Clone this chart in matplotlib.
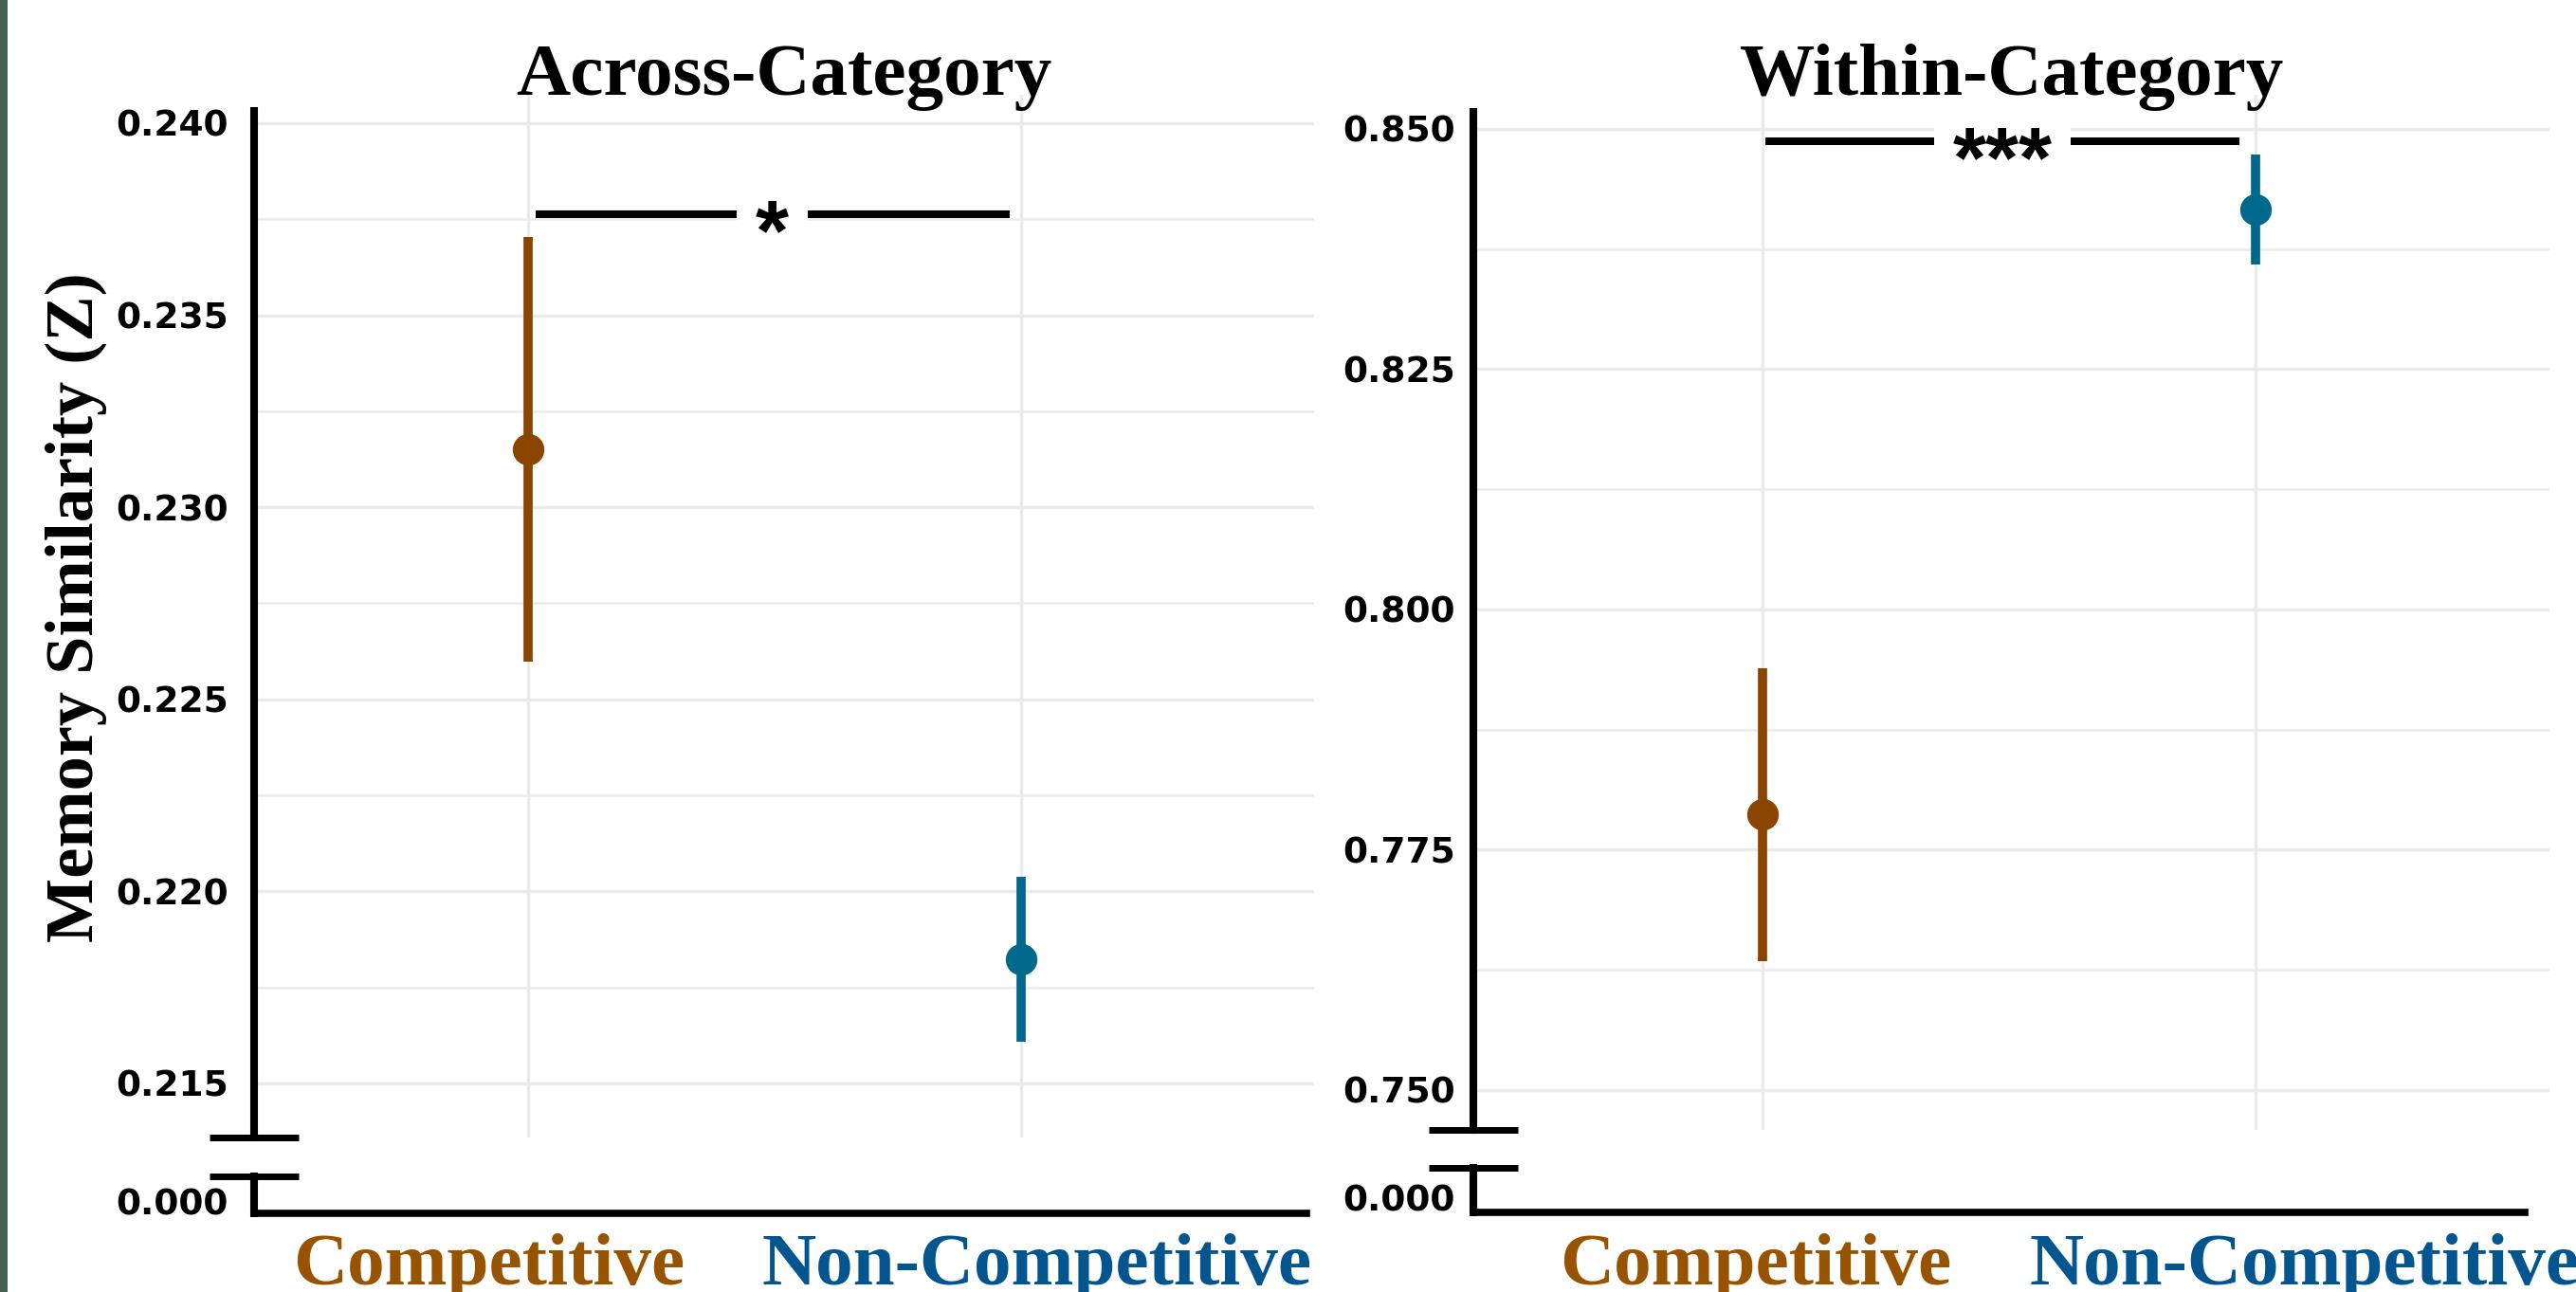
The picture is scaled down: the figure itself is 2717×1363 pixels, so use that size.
import numpy as np
import matplotlib.pyplot as plt
import matplotlib.transforms as mtransforms
from matplotlib.patches import Rectangle

# datos
conditions = ["Competitive", "Non-Competitive"]
label_colors = ["#985300", "#03558f"]
point_colors = ["#8B4500", "#00688B"]

across_mean = [0.23151, 0.21824]
across_lo = [0.22598, 0.21608]
across_hi = [0.23704, 0.22038]

within_mean = [0.77864, 0.84164]
within_lo = [0.76338, 0.83589]
within_hi = [0.79386, 0.84731]

across_ticks = [0.215, 0.220, 0.225, 0.230, 0.235, 0.240]
within_ticks = [0.750, 0.775, 0.800, 0.825, 0.850]

across_sig = (0.23764, "*")
within_sig = (0.84872, "***")

W, H = 2717, 1363
DPI = 100
fig = plt.figure(figsize=(W / DPI, H / DPI), dpi=DPI)
fig.patch.set_facecolor("white")
fig.patches.append(Rectangle((0, 0), 8 / W, 1, transform=fig.transFigure,
                             facecolor="#476152", edgecolor="none"))

serif = "Liberation Serif"
sans = "DejaVu Sans"


def px_box(x0, x1, top, bottom):
    return [x0 / W, (H - bottom) / H, (x1 - x0) / W, (bottom - top) / H]


def panel(x0, x1, top, brk, low_top, low_bot, ylim, spine_top, xlim, xend,
          means, lo, hi, ticks, minor, sig, sig_x, title, tick_pad, label_dx):
    ax = fig.add_axes(px_box(x0, x1, top, brk))
    axl = fig.add_axes(px_box(x0, x1, low_top, low_bot))
    pos = np.arange(1, len(conditions) + 1)

    for i in range(len(conditions)):
        ax.errorbar(pos[i], means[i],
                    yerr=[[means[i] - lo[i]], [hi[i] - means[i]]],
                    fmt="o", ms=23, elinewidth=7, capsize=0,
                    color=point_colors[i], zorder=3)

    ax.set_xlim(xlim)
    ax.set_ylim(ylim)
    ax.set_yticks(ticks)
    ax.set_yticks(minor, minor=True)
    ax.set_yticklabels([f"{t:.3f}" for t in ticks])
    ax.set_xticks(pos)
    ax.set_xticklabels([])
    ax.set_axisbelow(True)
    ax.grid(True, which="major", color="#ebebeb", lw=2.5)
    ax.grid(True, which="minor", axis="y", color="#ebebeb", lw=1.8)
    for s in ["top", "right", "bottom"]:
        ax.spines[s].set_visible(False)
    ax.spines["left"].set_linewidth(5.8)
    ax.spines["left"].set_bounds(ylim[0], spine_top)
    ax.tick_params(axis="both", which="both", length=0)
    ax.tick_params(axis="y", pad=tick_pad, labelsize=27)
    for lab in ax.get_yticklabels():
        lab.set_fontfamily(sans)
        lab.set_fontweight("bold")

    # parte baja del eje con el cero
    axl.set_xlim(xlim)
    axl.set_ylim(-0.5, 1)
    axl.set_yticks([0])
    axl.set_yticklabels(["0.000"], fontfamily=sans, fontweight="bold", fontsize=27)
    axl.set_xticks([])
    axl.tick_params(axis="y", length=0, pad=tick_pad)
    for s in ["top", "right"]:
        axl.spines[s].set_visible(False)
    axl.spines["left"].set_linewidth(5.8)
    axl.spines["bottom"].set_linewidth(5.5)
    axl.spines["bottom"].set_bounds(xlim[0], xend)
    axl.patch.set_alpha(0)

    # marcas del corte del eje
    d = 47 / (x1 - x0)
    ax.plot([-d, d], [0, 0], transform=ax.transAxes, color="black",
            lw=5, clip_on=False, solid_capstyle="butt")
    axl.plot([-d, d], [1, 1], transform=axl.transAxes, color="black",
             lw=5, clip_on=False, solid_capstyle="butt")

    # linea de significancia
    ax.plot(sig_x, [sig[0], sig[0]], color="black", lw=5.8,
            solid_capstyle="butt", zorder=2)
    ax.annotate(sig[1], xy=(np.mean(sig_x), sig[0]), xytext=(0, -35),
                textcoords="offset points", ha="center", va="baseline",
                fontsize=65, fontweight="bold", fontfamily="Liberation Sans",
                bbox=dict(boxstyle="square,pad=0.22", fc="white", ec="none"),
                zorder=4)

    # titulo
    ttr = mtransforms.blended_transform_factory(ax.transAxes, fig.transFigure)
    fig.text(0.5, 1 - 100 / H, title, transform=ttr, ha="center", va="baseline",
             fontfamily=serif, fontweight="bold", fontsize=57)

    # etiquetas de las condiciones
    for i in range(len(conditions)):
        off = mtransforms.ScaledTranslation(label_dx[i] / DPI, 0, fig.dpi_scale_trans)
        tr = mtransforms.blended_transform_factory(ax.transData, fig.transFigure) + off
        fig.text(pos[i], 8 / H, conditions[i], transform=tr, ha="center",
                 va="baseline", fontfamily=serif, fontweight="bold",
                 fontsize=57, color=label_colors[i])
    return ax


panel(268, 1386, 100, 1200, 1241, 1280,
      (0.21359, 0.24074), 0.24032, (0.4442, 2.594), 2.579,
      across_mean, across_lo, across_hi,
      across_ticks, [0.2175, 0.2225, 0.2275, 0.2325, 0.2375],
      across_sig, [1.015, 1.976], "Across-Category", 19.4, [-41, 16])

panel(1554, 2689, 100, 1192, 1232, 1279,
      (0.74582, 0.85355), 0.85178, (0.413, 2.597), 2.547,
      within_mean, within_lo, within_hi,
      within_ticks, [0.7625, 0.7875, 0.8125, 0.8375],
      within_sig, [1.005, 1.968], "Within-Category", 13.7, [-7, 52])

fig.text(80 / W, 1 - 641 / H, "Memory Similarity (Z)", rotation=90,
         ha="center", va="center", fontfamily=serif, fontweight="bold",
         fontsize=52)

fig.savefig("out.png", dpi=DPI)
